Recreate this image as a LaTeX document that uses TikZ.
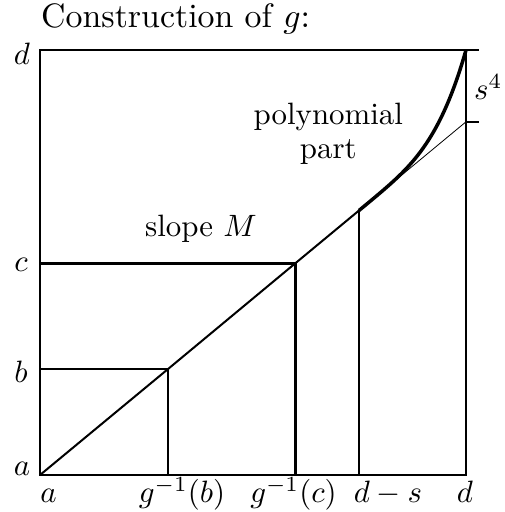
\documentclass[tikz,border=0pt]{standalone}
\usepackage{graphicx}
\newcommand\sbx[1]{\scalebox{3.1}{#1}}
\newcommand\tbx[1]{\scalebox{3.4}{#1}}
\tikzset{
  lbl/.style={inner sep=0pt, font=\fontsize{10}{11}\selectfont},
  boxline/.style={line width=1.9bp},
  heavy/.style={line width=2.8bp},
  diag/.style={line width=2bp},
  thinline/.style={line width=0.8bp},
  poly/.style={line width=3.5bp}
}
\begin{document}
\begin{tikzpicture}[x=1bp,y=1bp]
\useasboundingbox (0,0) rectangle (505,512);
% key points
\coordinate (O) at (40,37);
\coordinate (TR) at (466,462);
\coordinate (BR) at (466,37);
\coordinate (Pb) at (167.7,142.7);
\coordinate (Pc) at (295.3,248.7);
\coordinate (Ps) at (359,301.5);
\coordinate (Pd) at (466,390.2);
\coordinate (Lb) at (40,142.7);
\coordinate (Lc) at (40,248.7);
\coordinate (Xb) at (167.7,37);
\coordinate (Xc) at (295.3,37);
\coordinate (Xs) at (359,37);
\coordinate (T1) at (479,462);
\coordinate (T2) at (479,390.2);
% frame
\draw[boxline] (O) rectangle (TR);
% guides
\draw[boxline] (Lb) -- (Pb) -- (Xb);
\draw[heavy] (Lc) -- (Pc) -- (Xc);
\draw[boxline] (Ps) -- (Xs);
% linear part
\draw[diag] (O) -- (Pb);
\draw[diag] (Pb) -- (Pc);
\draw[diag] (Pc) -- (Ps);
\draw[thinline] (Ps) -- (Pd);
% polynomial part
\draw[poly] plot[domain=0:1, samples=60, smooth] ({359+107*\x},{301.5+0.829*107*\x+71.8*\x*\x*\x*\x});
% ticks
\draw[boxline] (TR) -- (T1);
\draw[boxline] (Pd) -- (T2);
% labels
\node[lbl, anchor=base west] (title) at (41,484.5) {\tbx{Construction of $g$:}};
\node[lbl, anchor=base] (ld) at (22,447) {\sbx{$d$}};
\node[lbl, anchor=base] (lc) at (21,240) {\sbx{$c$}};
\node[lbl, anchor=base] (lb) at (21,129) {\sbx{$b$}};
\node[lbl, anchor=base] (la) at (22,36) {\sbx{$a$}};
\node[lbl, anchor=base] (ba) at (48.5,9) {\sbx{$a$}};
\node[lbl, anchor=base] (bgb) at (182,9) {\sbx{$g^{-1}(b)$}};
\node[lbl, anchor=base] (bgc) at (293.5,9) {\sbx{$g^{-1}(c)$}};
\node[lbl, anchor=base] (bds) at (388,9) {\sbx{$d-s$}};
\node[lbl, anchor=base] (bd) at (465,9) {\sbx{$d$}};
\node[lbl, anchor=base west] (slope) at (145,275.3) {\sbx{slope $M$}};
\node[lbl, anchor=base] (polyl) at (328.3,387.7) {\sbx{\begin{tabular}[t]{@{}c@{}}polynomial\\part\end{tabular}}};
\node[lbl, anchor=base west] (s4) at (474,412) {\sbx{$s^4$}};
\end{tikzpicture}
\end{document}
